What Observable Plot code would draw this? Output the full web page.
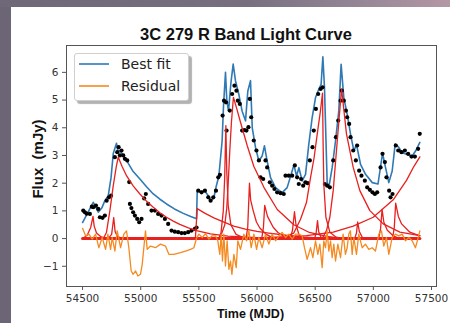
<!DOCTYPE html>
<html><head><meta charset="utf-8">
<script src="https://cdn.jsdelivr.net/npm/d3@7"></script>
<script src="https://cdn.jsdelivr.net/npm/@observablehq/plot@0.6"></script>
<style>
html,body{margin:0;padding:0;width:450px;height:323px;overflow:hidden;background:#6b6575;}
#topbar{position:absolute;left:0;top:0;width:450px;height:7px;background:linear-gradient(to right,#6e6878 0%,#776f80 55%,#958696 80%,#b497a4 100%);}
#panel{position:absolute;left:11px;top:7px;width:439px;height:316px;background:#fff;}
#chart,#over{position:absolute;left:0;top:0;}
#legend{position:absolute;left:63px;top:46px;width:113px;height:46px;background:#fff;border:1px solid #cfcfcf;border-radius:3px;box-shadow:3px 3px 1px rgba(0,0,0,0.3);}
</style></head>
<body>
<div id="topbar"></div>
<div id="panel">
  <div id="chart"></div>
  <svg id="over" width="439" height="316" style="pointer-events:none">
    <text x="235" y="33" text-anchor="middle" font-family="Liberation Sans, Arial, sans-serif" font-weight="bold" font-size="16.5" fill="#111">3C 279 R Band Light Curve</text>
    <text x="239.5" y="311" text-anchor="middle" font-family="Liberation Sans, Arial, sans-serif" font-weight="bold" font-size="12.5" fill="#111">Time (MJD)</text>
    <text transform="translate(32,152) rotate(-90)" text-anchor="middle" font-family="Liberation Sans, Arial, sans-serif" font-weight="bold" font-size="15" fill="#111" xml:space="preserve">Flux  (mJy)</text>
  </svg>
  <div id="legend">
    <svg width="113" height="46">
      <line x1="4" x2="34" y1="10" y2="10" stroke="#2f7ab5" stroke-width="1.6"/>
      <line x1="4" x2="34" y1="32" y2="32" stroke="#f58a20" stroke-width="1.6"/>
      <text x="46" y="15" font-family="DejaVu Sans, sans-serif" font-size="14" fill="#222">Best fit</text>
      <text x="46" y="37" font-family="DejaVu Sans, sans-serif" font-size="14" fill="#222">Residual</text>
    </svg>
  </div>
</div>
<script>
const xTicks = [54500, 55000, 55500, 56000, 56500, 57000, 57500];
const yTicks = [-1, 0, 1, 2, 3, 4, 5, 6];

const fitT = [54500,54560,54592,54612,54635,54665,54692,54721,54745,54764,54792,54806,54820,54850,54878,54930,54993,55050,55108,55165,55222,55290,55366,55430,55480,55486,55520,55550,55572,55606,55630,55650,55672,55700,55712,55729,55740,55755,55775,55795,55815,55844,55872,55901,55921,55944,55959,55987,56016,56044,56064,56087,56116,56159,56216,56259,56302,56317,56340,56360,56388,56417,56445,56474,56503,56531,56551,56566,56580,56603,56617,56646,56675,56703,56723,56746,56775,56804,56833,56855,56890,56933,56991,57040,57079,57105,57133,57162,57188,57219,57248,57291,57334,57363,57400];
const fitV = [0.58,1.05,1.31,1.15,0.95,1.1,1.37,1.55,2.2,3.07,3.44,3.1,3.18,3.0,2.82,2.45,2.15,1.87,1.61,1.42,1.25,1.07,0.91,0.8,0.72,1.72,1.70,1.72,1.6,1.36,1.5,1.9,2.26,3.53,4.8,6.0,5.0,4.6,5.6,6.3,5.69,5.2,4.6,4.25,5.33,5.7,4.0,3.29,2.8,2.98,3.35,2.8,2.2,1.84,1.66,1.84,2.44,2.66,2.26,2.56,2.08,2.32,3.4,4.37,5.09,5.39,5.57,6.56,5.45,2.02,1.84,2.56,3.53,4.61,6.29,5.09,4.49,3.77,3.16,3.4,2.68,2.32,2.02,1.97,3.08,2.56,2.02,2.44,3.42,3.29,3.1,3.04,2.98,3.16,3.47];

const obsT = [54506,54520,54535,54563,54580,54592,54615,54635,54649,54672,54692,54707,54727,54745,54778,54798,54810,54821,54835,54850,54864,54884,54901,54907,54920,54935,54950,54970,54987,55007,55030,55044,55064,55093,55122,55150,55179,55208,55236,55265,55293,55322,55351,55379,55408,55437,55465,55480,55495,55523,55552,55581,55601,55624,55647,55667,55681,55704,55716,55733,55738,55766,55786,55806,55823,55835,55852,55872,55892,55909,55926,55938,55950,55972,55995,56016,56030,56053,56073,56087,56110,56130,56150,56173,56202,56230,56245,56273,56302,56325,56345,56359,56379,56397,56416,56435,56454,56477,56488,56506,56526,56546,56563,56583,56603,56626,56655,56678,56698,56718,56729,56746,56764,56775,56792,56804,56827,56850,56861,56878,56898,56927,56947,56970,56993,57013,57033,57062,57079,57099,57113,57136,57148,57165,57193,57214,57242,57271,57299,57328,57357,57385,57399];
const obsV = [1.01,0.95,0.9,0.89,1.15,1.13,1.19,1.07,0.77,0.75,0.83,1.37,1.49,1.55,2.94,3.12,3.3,3.0,3.18,3.0,2.88,2.82,2.04,1.25,1.1,0.95,0.83,0.71,0.59,0.71,1.45,1.61,1.25,1.01,1.01,0.89,0.83,0.71,0.53,0.29,0.25,0.23,0.2,0.2,0.23,0.29,0.35,0.4,1.73,1.67,1.73,1.49,1.37,1.49,1.73,2.21,2.3,4.44,4.98,4.92,3.9,4.62,5.22,5.52,5.34,4.98,4.86,3.9,3.92,3.9,4.02,5.04,4.38,3.54,3.18,2.82,2.21,2.15,2.82,2.57,2.03,1.91,1.79,1.67,1.64,1.61,2.27,2.27,2.27,2.64,2.21,1.97,2.15,1.91,2.03,2.0,2.82,3.3,3.9,4.68,5.22,5.4,5.46,1.97,1.91,1.85,2.82,3.66,4.26,4.98,5.34,4.98,4.62,4.38,4.14,3.66,3.18,2.82,3.36,2.45,2.27,2.09,1.85,1.76,1.67,1.61,1.67,2.57,3.06,2.76,2.21,1.73,1.49,1.61,3.36,3.18,3.12,3.18,3.06,2.96,2.96,3.24,3.78];

const resT = [54500,54526,54554,54583,54612,54640,54669,54698,54718,54741,54755,54778,54798,54827,54855,54878,54898,54918,54935,54956,54976,54998,55013,55041,55056,55084,55127,55170,55213,55242,55285,55342,55385,55428,55457,55480,55500,55529,55557,55586,55614,55643,55663,55680,55692,55703,55715,55729,55743,55758,55772,55784,55801,55821,55835,55858,55887,55910,55930,55950,55973,55996,56016,56044,56073,56102,56130,56159,56188,56216,56245,56273,56302,56331,56359,56388,56408,56431,56460,56480,56503,56523,56540,56560,56574,56589,56603,56617,56632,56646,56660,56675,56695,56718,56740,56760,56775,56789,56803,56818,56832,56855,56875,56904,56932,56961,56990,57018,57047,57070,57090,57113,57133,57162,57190,57219,57248,57276,57305,57334,57362,57382,57400];
const resV = [0.37,0.10,0.16,-0.02,0.16,-0.33,0.04,-0.39,0.16,-0.39,0.04,-0.45,0.28,-0.33,0.16,0.28,-0.33,-1.17,-1.29,-1.17,-1.35,-1.29,-0.93,0.28,-0.39,-0.27,-0.33,-0.2,-0.27,-0.57,-0.57,-0.51,-0.45,-0.39,-0.33,0.01,0.16,0.04,0.18,-0.02,0.10,0.10,-0.08,-0.57,0.16,-0.81,0.16,-0.99,-0.08,-1.11,-0.81,-1.29,-0.57,-1.05,-0.08,-0.39,0.16,-0.08,0.28,-0.33,0.16,-0.39,0.04,-0.33,0.16,-0.2,0.16,-0.08,0.10,0.22,0.04,0.16,-0.02,0.16,0.16,0.10,-0.33,-0.75,-0.33,-0.69,-0.08,-0.57,-0.2,-1.05,-0.08,-0.33,0.28,-0.45,-0.08,-0.69,-0.2,-0.81,-0.2,-0.69,0.16,-0.57,-0.33,0.16,0.28,-0.57,0.04,-0.57,0.16,-0.33,-0.2,-0.39,-0.33,-0.45,0.16,0.28,-0.27,0.04,-0.57,0.04,0.16,0.10,0.16,-0.08,0.04,-0.08,-0.33,-0.02,0.28];

// flare components, [MJD, flux]
const flare1 = [[54500,0],[54540,0.12],[54570,0.4],[54590,0.8],[54600,0.45],[54620,0.2],[54660,0.06],[54720,0]];
const flare2 = [[54680,0],[54706,0.23],[54735,1.01],[54764,1.91],[54790,2.6],[54807,2.94],[54840,2.6],[54878,2.27],[54935,1.9],[54993,1.61],[55050,1.35],[55108,1.13],[55165,0.93],[55222,0.77],[55280,0.63],[55336,0.51],[55410,0.39],[55480,0.29],[55600,0.17],[55750,0.09],[56000,0.03],[56300,0]];
const flare3 = [[54720,0],[54750,0.15],[54768,0.76],[54780,0.25],[54800,0.08],[54840,0]];
const flare4 = [[55470,0],[55486,1.08],[55550,0.92],[55629,0.75],[55700,0.62],[55800,0.45],[55900,0.34],[56000,0.26],[56100,0.2],[56250,0.12],[56400,0.06],[56600,0]];
const flare5 = [[55670,0],[55690,0.2],[55710,1.0],[55722,2.2],[55732,4.08],[55740,2.4],[55752,1.2],[55775,0.5],[55820,0.15],[55900,0]];
const flare6 = [[55680,0],[55723,0.5],[55740,1.1],[55752,1.97],[55766,3.18],[55780,4.2],[55797,5.1],[55825,4.7],[55858,4.2],[55916,3.35],[55973,2.6],[56059,1.85],[56174,1.05],[56316,0.5],[56450,0.22],[56600,0.08],[56750,0]];
const flare7 = [[55905,0],[55920,0.4],[55935,2.0],[55945,1.4],[55967,1.01],[55995,0.6],[56024,0.38],[56080,0.15],[56150,0]];
const flare8 = [[56040,0],[56055,0.4],[56066,1.2],[56090,0.8],[56139,0.41],[56180,0.22],[56225,0.1],[56300,0]];
const flare9 = [[56285,0],[56305,0.3],[56322,0.97],[56335,0.5],[56360,0.15],[56400,0]];
const flare10 = [[56200,0],[56316,0.2],[56374,0.7],[56425,1.3],[56460,2.2],[56490,2.9],[56517,3.75],[56545,4.6],[56563,5.25],[56568,3.5],[56574,1.97],[56592,0.77],[56626,0.23],[56680,0.05],[56750,0]];
const flare11 = [[56560,0],[56597,0.29],[56626,0.77],[56655,1.73],[56683,3.18],[56705,4.3],[56727,5.4],[56769,3.78],[56827,2.57],[56884,1.73],[56970,1.01],[57085,0.53],[57228,0.23],[57400,0.11]];
const flare12 = [[56495,0],[56508,0.2],[56520,0.65],[56530,0.25],[56555,0]];
const flare13 = [[56840,0],[56855,0.2],[56865,0.6],[56880,0.25],[56910,0]];
const flare14 = [[57045,0],[57062,0.35],[57075,1.05],[57090,0.6],[57120,0.3],[57170,0.1],[57230,0]];
const flare15 = [[57165,0],[57180,0.4],[57192,1.28],[57215,0.8],[57243,0.53],[57314,0.23],[57400,0.1]];
const flare16 = [[55800,0],[56100,0.04],[56300,0.08],[56425,0.11],[56655,0.23],[56827,0.45],[56999,0.77],[57171,1.4],[57285,2.1],[57348,2.6],[57400,2.95]];
const flares = [flare1,flare2,flare3,flare4,flare5,flare6,flare7,flare8,flare9,flare10,flare11,flare12,flare13,flare14,flare15,flare16];
const baselineT = [54500, 57400];

const fit = fitT.map((t,i)=>({t, v: fitV[i]}));
const obs = obsT.map((t,i)=>({t, v: obsV[i]}));
const res = resT.map((t,i)=>({t, v: resV[i]}));
const comp = flares.flatMap((f,k)=>f.map(([t,v])=>({t, v, k})));
const base = baselineT.map(t=>({t, v: 0}));

const fmt = d3.format("d");
const chart = Plot.plot({
  width: 439, height: 316,
  marginLeft: 55, marginRight: 14, marginTop: 38, marginBottom: 37,
  style: {background: "transparent", fontFamily: "DejaVu Sans, sans-serif", fontSize: "10.5px", color: "#333"},
  x: {domain: [54362, 57543]},
  y: {domain: [-1.73, 6.97]},
  marks: [
    Plot.line(fit, {x: "t", y: "v", stroke: "#2f7ab5", strokeWidth: 1.6}),
    Plot.dot(obs, {x: "t", y: "v", r: 2.1, fill: "#000"}),
    Plot.line(comp, {x: "t", y: "v", z: "k", stroke: "#e8201e", strokeWidth: 1.3}),
    Plot.line(base, {x: "t", y: "v", stroke: "#e8201e", strokeWidth: 3}),
    Plot.line(res, {x: "t", y: "v", stroke: "#f58a20", strokeWidth: 1.3}),
    Plot.frame({stroke: "#555", strokeWidth: 1}),
    Plot.axisX({ticks: xTicks, tickFormat: fmt, tickSize: 4, tickPadding: 4, label: null, stroke: "#555"}),
    Plot.axisY({ticks: yTicks, tickFormat: fmt, tickSize: 4, tickPadding: 4, label: null, stroke: "#555"})
  ]
});
document.getElementById("chart").appendChild(chart);
</script>
</body></html>
